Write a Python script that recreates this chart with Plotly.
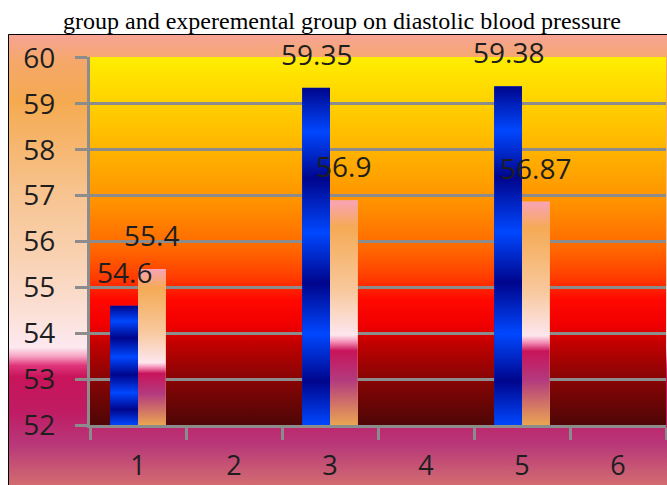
import base64
import plotly.graph_objects as go

# ---- data ----
categories = [1, 2, 3, 4, 5, 6]
tick_labels = ["1", "2", "3", "4", "5", "6"]
group_x = [1, 3, 5]
series_blue = [54.6, 59.35, 59.38]
series_orange = [55.4, 56.9, 56.87]
y_ticks = [52, 53, 54, 55, 56, 57, 58, 59, 60]
title_text = "group and experemental group on diastolic blood pressure"

# ---- style constants ----
W, H = 667, 485
ML, MR, MT, MB = 90, 1, 57, 60
PW, PH = W - ML - MR, H - MT - MB
Y_MIN, Y_MAX = 52, 60
BAR_W = 0.29
GRID = "#8c8c8c"
TXT = "#1e1e1e"
FONT = "Open Sans"


def px_x(px):
    return (px - ML) / PW


def px_y(py):
    return (H - MB - py) / PH


def grad_uri(stops):
    s = "".join(f"<stop offset='{o}' stop-color='{c}'/>" for o, c in stops)
    svg = ("<svg xmlns='http://www.w3.org/2000/svg' width='20' height='400' "
           "viewBox='0 0 20 400' preserveAspectRatio='none'><defs>"
           "<linearGradient id='g' x1='0' y1='0' x2='0' y2='1'>" + s +
           "</linearGradient></defs><rect x='0' y='0' width='20' height='400' "
           "fill='url(#g)'/></svg>")
    return "data:image/svg+xml;base64," + base64.b64encode(svg.encode()).decode()


outer_grad = grad_uri([
    (0.00, "#F7A396"), (0.06, "#F5A86A"), (0.15, "#F5AA50"), (0.35, "#F7C38F"),
    (0.52, "#F9D4B8"), (0.64, "#FCE3DE"), (0.695, "#FDE8F0"), (0.715, "#F6A2C2"),
    (0.735, "#E0357C"), (0.76, "#C8145A"), (0.84, "#C01C64"), (0.91, "#B8387A"),
    (1.00, "#D26C70"),
])
plot_grad = grad_uri([
    (0.00, "#FFEE00"), (0.12, "#FFD200"), (0.25, "#FFB400"), (0.40, "#FF9000"),
    (0.52, "#FF6800"), (0.60, "#FF3C00"), (0.66, "#FF0800"), (0.73, "#F00000"),
    (0.78, "#C00000"), (0.86, "#900404"), (1.00, "#4E0606"),
])
blue_grad = grad_uri([
    (0.00, "#00058C"), (0.13, "#0047FF"), (0.27, "#00058C"), (0.43, "#0047FF"),
    (0.58, "#00058C"), (0.73, "#0047FF"), (0.87, "#00058C"), (1.00, "#0047FF"),
])
orange_grad = grad_uri([
    (0.00, "#F9A3B8"), (0.12, "#F5AA55"), (0.40, "#F8C89C"), (0.60, "#FDE6EE"),
    (0.63, "#F590B8"), (0.67, "#C8145A"), (0.80, "#B33A7E"), (1.00, "#EBA552"),
])

fig = go.Figure()
fig.add_trace(go.Bar(x=group_x, y=series_blue, width=BAR_W, offset=-BAR_W,
                     marker=dict(color="#0030D0", line=dict(width=0)),
                     hoverinfo="skip", showlegend=False))
fig.add_trace(go.Bar(x=group_x, y=series_orange, width=BAR_W, offset=0,
                     marker=dict(color="#F4B070", line=dict(width=0)),
                     hoverinfo="skip", showlegend=False))

images = [
    dict(source=outer_grad, xref="paper", yref="paper", x=px_x(8), y=px_y(34),
         sizex=px_x(W) - px_x(8), sizey=px_y(34) - px_y(H), xanchor="left",
         yanchor="top", sizing="stretch", layer="below"),
    dict(source=plot_grad, xref="x domain", yref="paper", x=0, y=px_y(MT),
         sizex=1, sizey=px_y(MT) - px_y(H - MB), xanchor="left", yanchor="top",
         sizing="stretch", layer="below"),
]
annotations = []
for gx, v in zip(group_x, series_blue):
    images.append(dict(source=blue_grad, xref="x", yref="y", x=gx - BAR_W, y=v,
                       sizex=BAR_W, sizey=v - Y_MIN, xanchor="left", yanchor="top",
                       sizing="stretch", layer="above"))
    annotations.append(dict(x=gx - BAR_W / 2, y=v, text=str(v), showarrow=False,
                            yanchor="bottom", yshift=13,
                            font=dict(family=FONT, size=28, color=TXT)))
for gx, v in zip(group_x, series_orange):
    images.append(dict(source=orange_grad, xref="x", yref="y", x=gx, y=v,
                       sizex=BAR_W, sizey=v - Y_MIN, xanchor="left", yanchor="top",
                       sizing="stretch", layer="above"))
    annotations.append(dict(x=gx + BAR_W / 2, y=v, text=str(v), showarrow=False,
                            yanchor="bottom", yshift=13,
                            font=dict(family=FONT, size=28, color=TXT)))

fig.update_layout(
    width=W, height=H, autosize=False,
    margin=dict(l=ML, r=MR, t=MT, b=MB, pad=0, autoexpand=False),
    paper_bgcolor="white", plot_bgcolor="rgba(0,0,0,0)",
    barmode="overlay",
    title=dict(text=title_text, x=342 / W, xanchor="center", xref="container",
               y=1 - 21 / H, yanchor="middle", yref="container",
               font=dict(family="Liberation Serif", size=24, color="black")),
    images=images,
    annotations=annotations,
    shapes=[dict(type="rect", xref="paper", yref="paper", x0=px_x(8.5), x1=px_x(W + 5),
                 y0=px_y(H + 5), y1=px_y(34.5), line=dict(color="black", width=1),
                 fillcolor="rgba(0,0,0,0)", layer="below")],
    xaxis=dict(range=[0.5, 6.5], tickmode="array", tickvals=categories,
               ticktext=tick_labels, ticks="", showgrid=False, zeroline=False,
               automargin=False,
               showline=True, linecolor=GRID, linewidth=3,
               tickfont=dict(family=FONT, size=27, color=TXT), ticklabelstandoff=15,
               minor=dict(tickmode="array",
                          tickvals=[c - 0.5 for c in categories] + [categories[-1] + 0.5],
                          ticks="outside", ticklen=12, tickwidth=3, tickcolor=GRID,
                          showgrid=False)),
    yaxis=dict(range=[Y_MIN, Y_MAX + 0.02], tickmode="array", tickvals=y_ticks,
               ticks="outside", ticklen=12, tickwidth=3, tickcolor=GRID,
               showgrid=True, gridcolor=GRID, gridwidth=3, zeroline=False,
               automargin=False,
               showline=True, linecolor=GRID, linewidth=3,
               tickfont=dict(family=FONT, size=28, color=TXT), ticklabelstandoff=14),
)

fig.write_html("out.html")
